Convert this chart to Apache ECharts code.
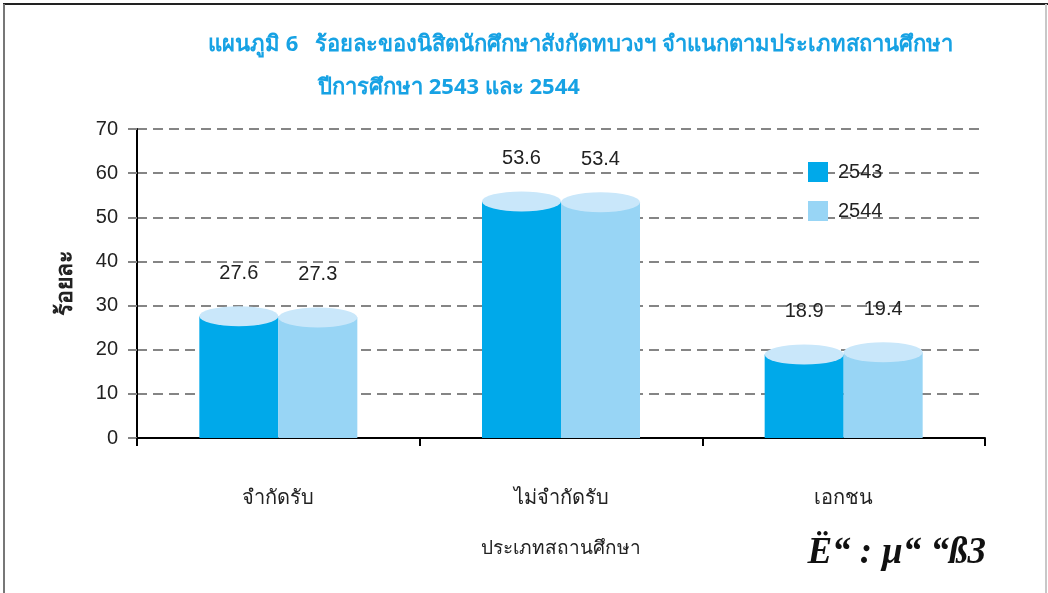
<!DOCTYPE html>
<html>
<head>
<meta charset="utf-8">
<script src="https://cdn.jsdelivr.net/npm/echarts@6/dist/echarts.min.js"></script>
<style>
  html, body { margin: 0; padding: 0; background: #fff; }
  #chart { width: 1048px; height: 593px; }
</style>
</head>
<body>
<div id="chart"></div>
<script>
var categories = ['จำกัดรับ', 'ไม่จำกัดรับ', 'เอกชน'];
var years = ['2543', '2544'];
var values2543 = [27.6, 53.6, 18.9];
var values2544 = [27.3, 53.4, 19.4];
var yTicks = [0, 70, 10]; // min, max, interval

var dark = '#00a9ea';
var light = '#98d5f5';
var capColor = '#c9e7fa';
var textColor = '#222';
var thaiFont = '"Noto Sans", "Liberation Sans", sans-serif';
var numFont = '"Liberation Sans", Arial, sans-serif';

function bodySeries(name, data, color) {
	return {
		name: name,
		type: 'bar',
		data: data,
		barWidth: 79,
		barGap: '0%',
		itemStyle: { color: color },
		label: {
			show: true,
			position: 'top',
			distance: 33,
			fontSize: 20,
			fontFamily: numFont,
			color: textColor
		},
		z: 2
	};
}

function capSeries(name, data) {
	return {
		name: name,
		type: 'pictorialBar',
		data: data,
		barWidth: 79,
		barGap: '0%',
		symbol: 'circle',
		symbolSize: ['100%', 20],
		symbolPosition: 'end',
		symbolOffset: [0, '-50%'],
		itemStyle: { color: capColor },
		silent: true,
		z: 3
	};
}

var chart = echarts.init(document.getElementById('chart'));
chart.setOption({
	animation: false,
	title: [
		{
			text: 'แผนภูมิ 6   ร้อยละของนิสิตนักศึกษาสังกัดทบวงฯ จำแนกตามประเภทสถานศึกษา',
			left: 203,
			top: 29,
			textStyle: { color: '#17a2e4', fontSize: 22, fontWeight: 'bold', fontFamily: thaiFont }
		},
		{
			text: 'ปีการศึกษา 2543 และ 2544',
			left: 313,
			top: 72,
			textStyle: { color: '#17a2e4', fontSize: 22, fontWeight: 'bold', fontFamily: thaiFont }
		}
	],
	legend: {
		data: years,
		orient: 'vertical',
		left: 808,
		top: 162,
		padding: 0,
		itemWidth: 20,
		itemHeight: 20,
		itemGap: 19,
		icon: 'rect',
		textStyle: { fontSize: 20, color: textColor, fontFamily: numFont, padding: [0, 0, 0, 5] }
	},
	grid: { left: 137, right: 63, top: 129, bottom: 155 },
	xAxis: {
		type: 'category',
		data: categories,
		name: 'ประเภทสถานศึกษา',
		nameLocation: 'middle',
		nameGap: 101,
		nameTextStyle: { fontSize: 19, color: textColor, fontFamily: thaiFont },
		axisLine: { lineStyle: { color: '#000', width: 2 } },
		axisTick: { show: true, length: 8, lineStyle: { color: '#000', width: 2 } },
		axisLabel: { margin: 50, fontSize: 20, color: textColor, fontFamily: thaiFont }
	},
	yAxis: {
		type: 'value',
		min: yTicks[0],
		max: yTicks[1],
		interval: yTicks[2],
		name: 'ร้อยละ',
		nameLocation: 'middle',
		nameGap: 60,
		nameRotate: 90,
		nameTextStyle: { fontSize: 23, fontWeight: 'bold', color: textColor, fontFamily: thaiFont },
		axisLine: { show: true, lineStyle: { color: '#000', width: 2 } },
		axisTick: { show: true, length: 9, lineStyle: { color: '#858585', width: 2 } },
		axisLabel: { margin: 19, fontSize: 20, color: textColor, fontFamily: numFont },
		splitLine: { show: true, lineStyle: { color: '#858585', width: 2, type: [10, 6] } }
	},
	graphic: [
		{ type: 'line', shape: { x1: 3, y1: 4, x2: 1048, y2: 4 }, style: { stroke: '#222', lineWidth: 2 } },
		{ type: 'line', shape: { x1: 4, y1: 4, x2: 4, y2: 593 }, style: { stroke: '#777', lineWidth: 2 } },
		{ type: 'line', shape: { x1: 1046, y1: 4, x2: 1046, y2: 593 }, style: { stroke: '#c8c8c8', lineWidth: 2 } },
		{
			type: 'text',
			right: 62,
			top: 535,
			style: {
				text: 'Ë“ : µ“ “ß3',
				font: 'italic bold 37px "Liberation Serif", "DejaVu Serif", serif',
				fill: '#111'
			}
		}
	],
	series: [
		bodySeries(years[0], values2543, dark),
		bodySeries(years[1], values2544, light),
		capSeries('cap2543', values2543),
		capSeries('cap2544', values2544)
	]
});
</script>
</body>
</html>
